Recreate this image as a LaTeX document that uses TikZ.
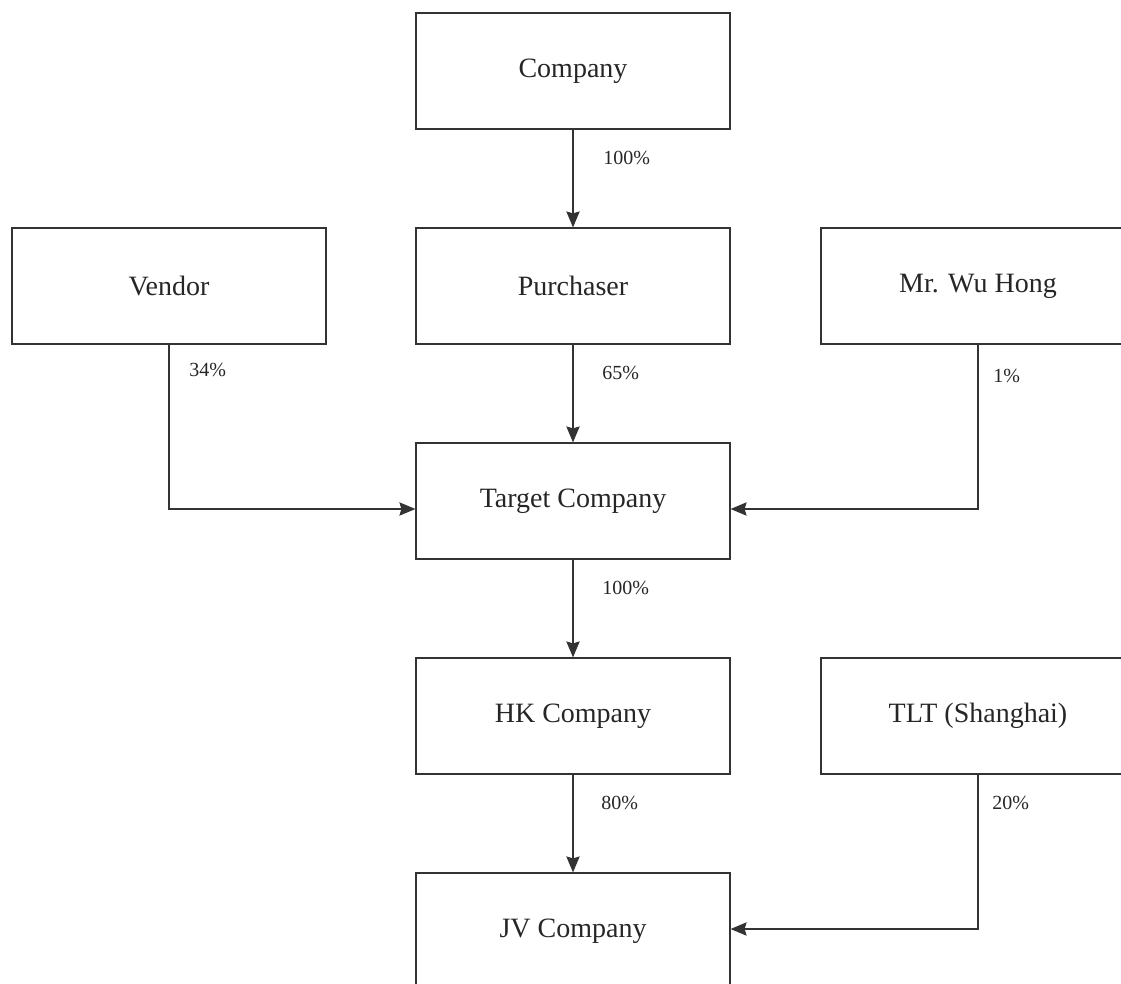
\documentclass[tikz,border=0pt]{standalone}
\usepackage{fontspec}
\setmainfont{Liberation Serif}
\usetikzlibrary{arrows.meta}

\begin{document}
\begin{tikzpicture}[x=0.75pt,y=-0.75pt,
		box/.style={draw=black!80,line width=0.9pt,minimum width=235.5pt,minimum height=87pt,inner sep=0pt,font=\fontsize{21}{24}\selectfont,text=black!85},
		pct/.style={anchor=west,inner sep=0pt,font=\fontsize{15}{17}\selectfont,text=black!85},
		arr/.style={draw=black!80,line width=0.9pt,-{Stealth[length=12pt,width=10pt,inset=1.5pt]}}]
				\useasboundingbox (0,0) rectangle (1121,983);
				\node[box] (company) at (573,71) {Company};
				\node[box] (vendor) at (169,286) {Vendor};
				\node[box] (purchaser) at (573,286) {Purchaser};
				\node[box] (wuhong) at (978,286) {Mr. Wu Hong};
				\node[box] (target) at (573,501) {Target Company};
				\node[box] (hk) at (573,716) {HK Company};
				\node[box] (tlt) at (978,716) {TLT (Shanghai)};
				\node[box] (jv) at (573,931) {JV Company};
				\node[pct] (pcompany) at (603,158) {100\%};
				\node[pct] (pvendor) at (189,370) {34\%};
				\node[pct] (ppurchaser) at (602,373) {65\%};
				\node[pct] (pwuhong) at (993,376) {1\%};
				\node[pct] (ptarget) at (602,588) {100\%};
				\node[pct] (phk) at (601,803) {80\%};
				\node[pct] (ptlt) at (992,803) {20\%};
				\draw[arr] (company) -- (purchaser);
				\draw[arr] (purchaser) -- (target);
				\draw[arr] (target) -- (hk);
				\draw[arr] (hk) -- (jv);
				\draw[arr] (vendor.south) |- ([yshift=-6pt]target.west);
				\draw[arr] (wuhong.south) |- ([yshift=-6pt]target.east);
				\draw[arr] (tlt.south) |- ([yshift=1.5pt]jv.east);
			\end{tikzpicture}
\end{document}
